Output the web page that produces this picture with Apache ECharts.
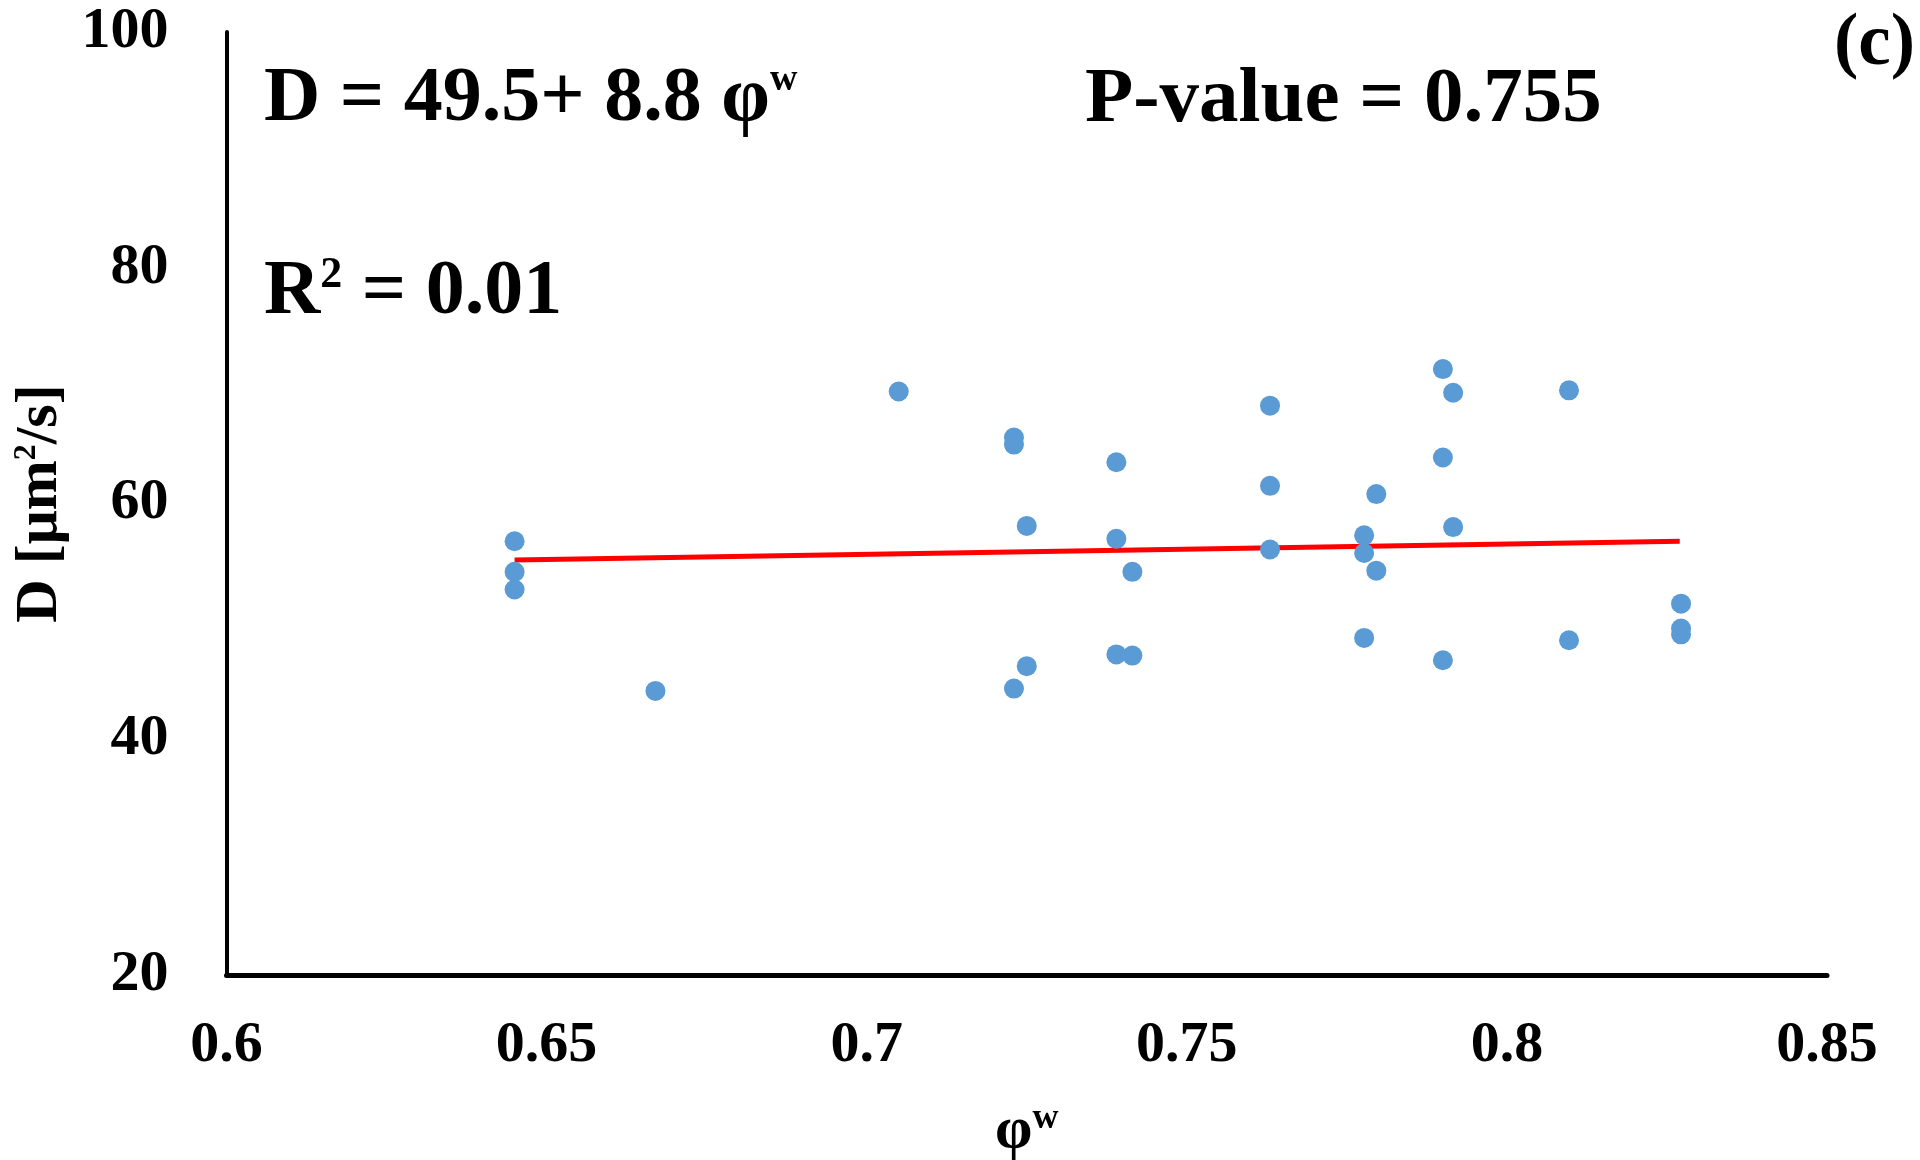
<!DOCTYPE html>
<html>
<head>
<meta charset="utf-8">
<script src="https://cdn.jsdelivr.net/npm/echarts@6/dist/echarts.min.js"></script>
<style>
html,body{margin:0;padding:0;background:#fff;}
#chart{width:1920px;height:1160px;}
</style>
</head>
<body>
<div id="chart"></div>
<script>
// Data
const phiW = [0.645, 0.645, 0.645, 0.667, 0.705, 0.723, 0.723, 0.723, 0.725, 0.725,
              0.739, 0.739, 0.739, 0.7415, 0.7415, 0.763, 0.763, 0.763, 0.7777, 0.7777,
              0.7777, 0.7796, 0.7796, 0.790, 0.790, 0.790, 0.7916, 0.7916, 0.8097, 0.8097,
              0.8272, 0.8272, 0.8272];
const diffD = [56.8, 54.2, 52.7, 44.1, 69.5, 65.6, 65.0, 44.3, 58.1, 46.2,
               63.5, 57.0, 47.2, 54.2, 47.1, 68.3, 61.5, 56.1, 57.3, 55.8,
               48.6, 60.8, 54.3, 71.4, 63.9, 46.7, 69.4, 58.0, 69.6, 48.4,
               51.5, 49.4, 48.9];
const trendX = [0.645, 0.827];
const trendY = [55.2, 56.8];
const xTicks = ['0.6', '0.65', '0.7', '0.75', '0.8', '0.85'];
const yTicks = ['20', '40', '60', '80', '100'];

const FONT = '"Liberation Serif", "Times New Roman", serif';
const chart = echarts.init(document.getElementById('chart'), null, {renderer: 'canvas'});

const scatterData = phiW.map((x, i) => [x, diffD[i]]);
const trendData = trendX.map((x, i) => [x, trendY[i]]);

chart.setOption({
  animation: false,
  backgroundColor: '#ffffff',
  grid: {left: 226.5, right: 93, top: 32, bottom: 185, outerBoundsMode: 'none', containLabel: false},
  xAxis: {
    type: 'value', min: 0.6, max: 0.85, interval: 0.05,
    axisLine: {show: true, lineStyle: {color: '#000', width: 5}},
    axisTick: {show: false},
    splitLine: {show: false},
    axisLabel: {
      margin: 42, color: '#000', fontFamily: FONT, fontWeight: 'bold', fontSize: 58,
      formatter: v => xTicks.find(t => Math.abs(parseFloat(t) - v) < 1e-6) || ''
    },
    name: '{a|φ}{b|w}',
    nameLocation: 'middle',
    nameGap: 126,
    nameTextStyle: {
      rich: {
        a: {fontFamily: FONT, fontWeight: 'bold', fontSize: 60, color: '#000', lineHeight: 60},
        b: {fontFamily: FONT, fontWeight: 'bold', fontSize: 36, color: '#000', lineHeight: 40, verticalAlign: 'top'}
      }
    }
  },
  yAxis: {
    type: 'value', min: 20, max: 100, interval: 20,
    axisLine: {show: true, lineStyle: {color: '#000', width: 4}},
    axisTick: {show: false},
    splitLine: {show: false},
    axisLabel: {
      margin: 58, color: '#000', fontFamily: FONT, fontWeight: 'bold', fontSize: 58,
      formatter: v => yTicks.find(t => Math.abs(parseFloat(t) - v) < 1e-6) || ''
    },
    name: '{m|D [μm}{s|2}{m|/s]}',
    nameLocation: 'middle',
    nameGap: 155,
    nameRotate: 90,
    nameTextStyle: {
      rich: {
        m: {fontFamily: FONT, fontWeight: 'bold', fontSize: 60, color: '#000', lineHeight: 60},
        s: {fontFamily: FONT, fontWeight: 'bold', fontSize: 32, color: '#000', lineHeight: 29, verticalAlign: 'top'}
      }
    }
  },
  series: [
    {
      type: 'line', data: trendData, showSymbol: false, symbol: 'none', z: 2,
      lineStyle: {color: '#ff0000', width: 5}
    },
    {
      type: 'scatter', data: scatterData, symbol: 'circle', symbolSize: 20, z: 3,
      itemStyle: {color: '#5B9BD5', opacity: 1}
    }
  ],
  graphic: [
    {
      type: 'text', left: 264, top: 61,
      style: {
        text: '{m|D = 49.5+ 8.8 φ}{s|w}',
        rich: {
          m: {fontFamily: FONT, fontWeight: 'bold', fontSize: 78, fill: '#000', lineHeight: 78},
          s: {fontFamily: FONT, fontWeight: 'bold', fontSize: 38, fill: '#000', lineHeight: 46, verticalAlign: 'top'}
        }
      }
    },
    {
      type: 'text', left: 264, top: 254,
      style: {
        text: '{m|R}{s|2}{m| = 0.01}',
        rich: {
          m: {fontFamily: FONT, fontWeight: 'bold', fontSize: 78, fill: '#000', lineHeight: 78},
          s: {fontFamily: FONT, fontWeight: 'bold', fontSize: 44, fill: '#000', lineHeight: 62, verticalAlign: 'top'}
        }
      }
    },
    {
      type: 'text', left: 1085, top: 61,
      style: {text: 'P-value = 0.755', font: 'bold 79px ' + FONT, fill: '#000'}
    },
    {
      type: 'text', right: 5, top: 9,
      style: {text: '(c)', font: 'bold 73px ' + FONT, fill: '#000'}
    }
  ]
});
</script>
</body>
</html>
